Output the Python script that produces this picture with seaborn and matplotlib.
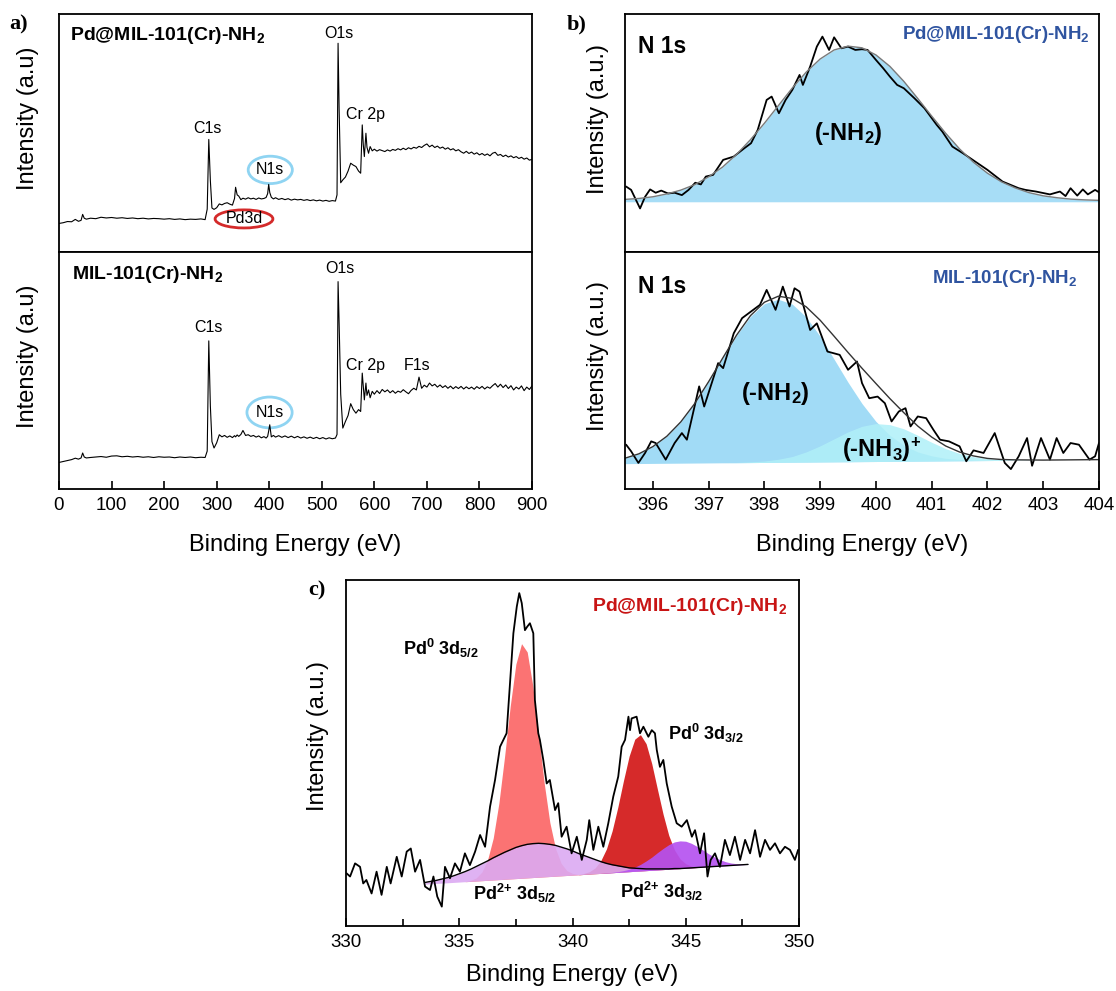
import matplotlib
matplotlib.use("Agg")
import matplotlib.pyplot as plt
import seaborn as sns
from matplotlib.patches import Ellipse
from matplotlib.ticker import MultipleLocator

# ---------------- data (arbitrary intensity units) ----------------
# a) survey spectra
survey_ev = [0, 8, 16, 24, 31, 37, 42, 45, 48, 52,
             60, 70, 80, 90, 100, 110, 120, 130, 140, 150,
             160, 170, 180, 190, 200, 210, 220, 230, 240, 250,
             260, 270, 278, 282, 285, 288, 291, 295, 300, 305,
             310, 315, 320, 325, 330, 334, 336, 339, 342, 346,
             350, 355, 360, 365, 370, 375, 380, 385, 390, 394,
             397, 399, 401, 404, 408, 412, 418, 424, 430, 436,
             442, 448, 454, 460, 466, 472, 478, 484, 490, 496,
             502, 508, 514, 520, 526, 529, 531, 533, 536, 540,
             545, 550, 555, 560, 565, 570, 574, 577, 579, 581,
             584, 586, 589, 592, 596, 600, 605, 610, 615, 620,
             625, 630, 635, 640, 645, 650, 655, 660, 665, 670,
             675, 680, 685, 690, 695, 700, 705, 710, 715, 720,
             725, 730, 735, 740, 745, 750, 755, 760, 765, 770,
             775, 780, 785, 790, 795, 800, 805, 810, 815, 820,
             825, 830, 835, 840, 845, 850, 855, 860, 865, 870,
             875, 880, 885, 890, 895, 900]
survey_pd = [12.0, 12.3, 12.8, 12.7, 13.7, 12.9, 13.3, 15.8, 14.2, 13.8,
             14.2, 14.0, 14.6, 14.3, 14.5, 14.2, 14.4, 14.1, 14.3, 14.0,
             14.2, 13.9, 14.1, 14.0, 13.8, 14.0, 13.7, 13.9, 13.6, 13.8,
             13.7, 13.9, 13.6, 18.0, 47.3, 30.0, 18.5, 17.9, 18.6, 20.2,
             19.8, 20.4, 20.7, 20.1, 19.7, 22.5, 27.2, 24.0, 23.5, 22.0,
             22.6, 22.2, 22.8, 22.3, 22.6, 22.1, 22.7, 22.3, 22.5, 22.9,
             24.5, 28.4, 25.0, 23.0, 22.3, 22.8, 22.1, 22.5, 22.0, 22.4,
             21.8, 22.2, 21.9, 22.1, 21.7, 22.0, 21.6, 21.9, 21.5, 21.8,
             21.4, 21.7, 21.3, 21.6, 21.4, 24.0, 87.7, 60.0, 29.1, 30.3,
             31.5, 34.0, 37.3, 36.5, 35.9, 34.0, 33.1, 53.4, 45.0, 40.1,
             49.9, 44.0, 41.5, 44.3, 42.5, 43.2, 42.4, 43.0, 42.6, 42.2,
             42.9, 42.4, 43.1, 42.7, 43.4, 42.9, 43.6, 43.0, 43.8, 43.3,
             44.0, 43.6, 44.4, 43.9, 44.8, 45.4, 44.2, 44.9, 43.9, 44.5,
             43.6, 44.1, 43.2, 43.8, 42.9, 43.4, 42.5, 43.0, 42.1, 41.5,
             42.3, 41.4, 42.0, 41.1, 41.7, 40.8, 41.4, 40.6, 41.2, 40.4,
             41.5, 41.9, 40.6, 41.0, 40.1, 40.7, 39.9, 40.4, 39.6, 40.1,
             39.3, 39.8, 39.0, 39.5, 38.6, 38.9]
survey_mil = [11.2, 11.6, 12.0, 12.4, 13.0, 12.6, 13.1, 15.2, 13.5, 13.1,
              13.3, 13.5, 13.7, 13.4, 13.9, 14.0, 13.6, 13.8, 13.5, 13.7,
              13.4, 13.6, 13.3, 13.6, 13.4, 13.5, 13.2, 13.5, 13.3, 13.5,
              13.2, 13.4, 13.3, 16.0, 62.5, 35.0, 20.0, 17.3, 19.5, 22.9,
              22.0, 22.6, 21.8, 22.4, 21.7, 22.5, 22.0, 22.8, 22.2, 23.0,
              24.7, 22.6, 22.9, 22.2, 22.6, 21.9, 22.4, 21.6, 22.1, 21.5,
              22.2, 24.5, 27.1, 22.0, 22.6, 21.9, 22.5, 21.8, 22.4, 21.7,
              22.3, 21.6, 22.2, 21.5, 22.0, 21.4, 21.9, 21.3, 21.8, 21.2,
              21.7, 21.1, 21.6, 21.2, 21.5, 23.0, 87.5, 70.0, 40.0, 25.7,
              28.5, 31.0, 36.0, 33.5, 32.0, 33.5, 32.7, 48.9, 43.0, 37.6,
              44.7, 39.5, 41.8, 38.5, 41.2, 40.0, 41.5, 40.3, 42.0, 41.0,
              41.8, 40.6, 41.5, 40.4, 41.3, 40.8, 41.9, 41.0, 40.2, 41.6,
              42.5, 41.8, 47.2, 42.5, 43.8, 43.0, 44.7, 43.5, 44.2, 43.0,
              43.9, 42.8, 43.6, 42.5, 43.4, 42.3, 43.2, 42.4, 43.3, 42.2,
              43.1, 42.3, 43.0, 42.1, 43.2, 42.4, 43.3, 42.2, 43.1, 42.5,
              43.6, 44.5, 43.0, 44.2, 42.8, 43.9, 42.4, 43.6, 41.8, 43.0,
              42.2, 43.5, 41.5, 43.0, 42.0, 43.5]

# b) N 1s high resolution
n1s_pd_ev = [395.52, 395.61, 395.77, 395.86, 395.95, 396.05, 396.15, 396.27, 396.39, 396.52,
             396.64, 396.76, 396.86, 396.95, 397.08, 397.26, 397.45, 397.64, 397.76, 397.88,
             398.04, 398.13, 398.26, 398.38, 398.5, 398.63, 398.69, 398.82, 398.94, 399.04,
             399.16, 399.25, 399.38, 399.5, 399.63, 399.75, 399.85, 400.0, 400.13, 400.25,
             400.38, 400.5, 400.69, 400.87, 401.09, 401.19, 401.37, 401.56, 401.78, 402.0,
             402.27, 402.56, 402.68, 402.87, 403.12, 403.3, 403.4, 403.49, 403.61, 403.71,
             403.8, 403.93, 404.0]
n1s_pd_int = [27.5, 26.1, 18.3, 23.2, 26.3, 24.9, 25.8, 24.6, 24.9, 23.9,
              26.1, 29.1, 28.4, 31.7, 32.4, 38.7, 40.1, 43.6, 45.7, 51.3,
              63.9, 65.3, 58.3, 63.9, 68.1, 74.4, 70.2, 77.9, 86.3, 90.5,
              84.9, 90.2, 85.6, 86.3, 84.9, 85.2, 84.9, 80.7, 77.2, 73.7,
              70.2, 68.8, 64.6, 60.4, 53.4, 50.6, 44.3, 41.5, 38.0, 34.5,
              29.6, 26.8, 26.1, 25.4, 24.2, 25.4, 23.5, 26.8, 23.7, 26.3,
              24.2, 26.1, 25.1]
n1s_mil_ev = [395.52, 395.61, 395.74, 395.86, 395.97, 396.05, 396.23, 396.39, 396.52, 396.61,
              396.83, 396.92, 397.17, 397.26, 397.45, 397.6, 397.76, 397.92, 398.04, 398.2,
              398.33, 398.45, 398.54, 398.63, 398.82, 398.94, 399.13, 399.35, 399.5, 399.66,
              399.75, 399.88, 400.03, 400.16, 400.28, 400.41, 400.53, 400.62, 400.75, 400.9,
              401.03, 401.15, 401.31, 401.5, 401.62, 401.75, 401.93, 402.13, 402.31, 402.42,
              402.56, 402.71, 402.8, 402.96, 403.12, 403.24, 403.36, 403.49, 403.64, 403.83,
              403.93, 404.0]
n1s_mil_int = [18.7, 15.9, 11.0, 15.2, 20.1, 19.4, 12.4, 19.4, 23.6, 20.8,
               43.3, 34.8, 53.1, 51.0, 65.7, 72.1, 74.9, 77.7, 84.0, 75.6,
               85.4, 77.0, 84.7, 83.3, 67.1, 69.9, 58.0, 56.6, 50.3, 53.8,
               44.7, 38.3, 39.0, 36.2, 28.5, 32.7, 34.1, 26.4, 30.6, 29.9,
               25.0, 20.8, 20.1, 18.0, 11.7, 16.3, 15.2, 23.6, 11.0, 8.4,
               13.8, 21.5, 9.8, 21.5, 12.4, 21.5, 15.2, 19.4, 18.7, 12.4,
               13.8, 19.4]

n1s_fit_ev = [395.5, 395.75, 396.0, 396.25, 396.5, 396.75, 397.0, 397.25, 397.5, 397.75,
              398.0, 398.25, 398.5, 398.75, 399.0, 399.25, 399.5, 399.75, 400.0, 400.25,
              400.5, 400.75, 401.0, 401.25, 401.5, 401.75, 402.0, 402.25, 402.5, 402.75,
              403.0, 403.25, 403.5, 403.75, 404.0]
n1s_pd_fit = [22.1, 22.5, 23.2, 24.4, 26.0, 28.3, 31.6, 35.7, 41.0, 47.2,
              54.1, 61.5, 68.9, 75.6, 81.1, 84.9, 86.5, 85.8, 82.8, 78.0,
              71.7, 64.5, 57.1, 49.9, 43.3, 37.7, 33.1, 29.5, 26.9, 24.9,
              23.6, 22.8, 22.2, 21.9, 21.7]
n1s_pd_base = 21.1
n1s_mil_base = [10.7, 10.75, 10.8, 10.85, 10.9, 10.95, 11.0, 11.05, 11.1, 11.15,
                11.2, 11.25, 11.3, 11.35, 11.4, 11.45, 11.5, 11.55, 11.6, 11.65,
                11.7, 11.75, 11.8, 11.85, 11.9, 11.95, 12.0, 12.05, 12.1, 12.15,
                12.2, 12.25, 12.3, 12.35, 12.4]
n1s_mil_nh2 = [2.3, 4.1, 7.1, 11.4, 17.4, 25.1, 34.3, 44.1, 53.7, 61.7,
               67.0, 68.8, 66.7, 61.2, 53.0, 43.3, 33.5, 24.5, 16.9, 11.0,
               6.8, 3.9, 2.2, 1.1, 0.6, 0.3, 0.1, 0, 0, 0,
               0, 0, 0, 0, 0]
n1s_mil_nh3 = [0, 0, 0, 0, 0, 0, 0, 0, 0.1, 0.3,
               0.6, 1.3, 2.4, 4.3, 6.8, 9.7, 12.6, 14.9, 16.0, 15.5,
               13.7, 10.9, 7.9, 5.2, 3.1, 1.7, 0.8, 0.4, 0.2, 0.1,
               0, 0, 0, 0, 0]

# c) Pd 3d high resolution
pd3d_ev = [330.03, 330.18, 330.4, 330.62, 330.76, 330.9, 331.13, 331.35, 331.57, 331.8,
           331.97, 332.24, 332.46, 332.68, 332.86, 333.05, 333.27, 333.49, 333.71, 333.86,
           334.03, 334.23, 334.37, 334.59, 334.81, 335.03, 335.25, 335.47, 335.7, 335.92,
           336.14, 336.36, 336.58, 336.8, 337.09, 337.24, 337.39, 337.54, 337.65, 337.76,
           337.9, 338.0, 338.12, 338.27, 338.34, 338.49, 338.56, 338.71, 338.86, 339.0,
           339.23, 339.37, 339.52, 339.74, 339.96, 340.19, 340.41, 340.63, 340.74, 340.92,
           341.14, 341.36, 341.58, 341.8, 342.02, 342.17, 342.32, 342.47, 342.54, 342.61,
           342.83, 342.98, 343.13, 343.35, 343.5, 343.64, 343.72, 343.86, 344.01, 344.16,
           344.38, 344.6, 344.82, 345.05, 345.27, 345.41, 345.63, 345.81, 345.96, 346.1,
           346.29, 346.51, 346.73, 346.95, 347.17, 347.4, 347.62, 347.84, 348.06, 348.28,
           348.5, 348.72, 348.94, 349.16, 349.38, 349.6, 349.82, 349.96]
pd3d_int = [15.2, 14.3, 18.1, 17.1, 12.3, 13.3, 9.4, 15.7, 9.0, 17.1,
            12.3, 20.0, 14.3, 21.5, 22.4, 15.7, 19.1, 11.4, 10.4, 14.3,
            8.5, 5.6, 17.1, 13.8, 18.1, 15.7, 21.0, 17.6, 21.5, 26.3,
            22.9, 34.5, 42.2, 51.8, 55.7, 70.1, 84.6, 92.3, 96.2, 93.3,
            85.5, 86.5, 87.5, 84.6, 65.3, 55.7, 53.8, 48.0, 41.2, 42.2,
            33.5, 35.5, 25.8, 28.7, 21.0, 25.8, 19.1, 24.9, 30.6, 22.0,
            28.7, 22.9, 29.7, 37.4, 43.2, 51.8, 53.8, 60.5, 56.6, 60.0,
            60.5, 55.7, 57.6, 54.7, 56.6, 55.7, 50.9, 46.0, 48.0, 41.2,
            34.5, 29.7, 28.7, 30.6, 25.8, 27.7, 21.0, 26.8, 14.3, 19.1,
            21.0, 17.1, 24.9, 20.5, 25.8, 19.1, 24.9, 21.0, 27.7, 20.0,
            24.9, 22.0, 23.9, 21.0, 22.9, 22.0, 19.1, 22.0]

pd3d_fit_ev = [333.5, 333.75, 334.0, 334.25, 334.5, 334.75, 335.0, 335.25, 335.5, 335.75,
               336.0, 336.25, 336.5, 336.75, 337.0, 337.25, 337.5, 337.75, 338.0, 338.25,
               338.5, 338.75, 339.0, 339.25, 339.5, 339.75, 340.0, 340.25, 340.5, 340.75,
               341.0, 341.25, 341.5, 341.75, 342.0, 342.25, 342.5, 342.75, 343.0, 343.25,
               343.5, 343.75, 344.0, 344.25, 344.5, 344.75, 345.0, 345.25, 345.5, 345.75,
               346.0, 346.25, 346.5, 346.75, 347.0, 347.25, 347.5, 347.75]
pd3d_base = [12.1, 12.2, 12.3, 12.4, 12.5, 12.6, 12.7, 12.8, 12.9, 13.0,
             13.1, 13.2, 13.3, 13.4, 13.5, 13.6, 13.7, 13.8, 13.9, 14.0,
             14.1, 14.2, 14.3, 14.4, 14.5, 14.6, 14.7, 14.8, 14.9, 15.0,
             15.1, 15.2, 15.3, 15.4, 15.5, 15.6, 15.7, 15.8, 15.9, 16.0,
             16.1, 16.2, 16.3, 16.4, 16.5, 16.6, 16.7, 16.8, 16.9, 17.0,
             17.1, 17.2, 17.3, 17.4, 17.5, 17.6, 17.7, 17.8]
pd0_52 = [0, 0, 0, 0, 0, 0, 0, 0, 0.3, 0.9,
          2.5, 5.9, 12.1, 22.1, 35.4, 49.9, 62.0, 67.8, 65.3, 55.3,
          41.3, 27.1, 15.6, 8.0, 3.6, 1.4, 0.5, 0.1, 0, 0,
          0, 0, 0, 0, 0, 0, 0, 0, 0, 0,
          0, 0, 0, 0, 0, 0, 0, 0, 0, 0,
          0, 0, 0, 0, 0, 0, 0, 0]
pd0_32 = [0, 0, 0, 0, 0, 0, 0, 0, 0, 0,
          0, 0, 0, 0, 0, 0, 0, 0, 0, 0,
          0, 0, 0, 0, 0, 0, 0, 0, 0.3, 0.7,
          1.7, 3.7, 7.0, 12.1, 18.8, 26.4, 33.4, 38.2, 39.4, 36.7,
          30.8, 23.3, 16.0, 9.8, 5.5, 2.8, 1.3, 0.5, 0.2, 0.1,
          0, 0, 0, 0, 0, 0, 0, 0]
pd2_52 = [0.5, 0.7, 0.9, 1.2, 1.5, 1.9, 2.4, 2.9, 3.5, 4.2,
          4.9, 5.6, 6.4, 7.1, 7.8, 8.4, 9.0, 9.4, 9.7, 9.8,
          9.8, 9.6, 9.3, 8.9, 8.3, 7.7, 7.0, 6.2, 5.5, 4.8,
          4.1, 3.4, 2.8, 2.3, 1.9, 1.5, 1.1, 0.9, 0.7, 0.5,
          0.4, 0.3, 0.2, 0.1, 0.1, 0, 0, 0, 0, 0,
          0, 0, 0, 0, 0, 0, 0, 0]
pd2_32 = [0, 0, 0, 0, 0, 0, 0, 0, 0, 0,
          0, 0, 0, 0, 0, 0, 0, 0, 0, 0,
          0, 0, 0, 0, 0, 0, 0, 0, 0, 0,
          0, 0, 0.1, 0.1, 0.2, 0.4, 0.7, 1.2, 1.9, 2.8,
          3.8, 5.0, 6.1, 7.1, 7.8, 8.0, 7.8, 7.1, 6.1, 5.0,
          3.8, 2.8, 1.9, 1.2, 0.7, 0.4, 0.2, 0.1]

# ---------------- style ----------------
sns.set_theme(style="ticks")
plt.rcParams["font.family"] = ["Liberation Sans", "DejaVu Sans"]
plt.rcParams["mathtext.fontset"] = "custom"
plt.rcParams["mathtext.rm"] = "Liberation Sans"
plt.rcParams["mathtext.bf"] = "Liberation Sans:bold"
plt.rcParams["mathtext.default"] = "bf"
for key in ("text.color", "axes.labelcolor", "xtick.color", "ytick.color", "axes.edgecolor"):
    plt.rcParams[key] = "black"

W, H = 1116, 991
fig = plt.figure(figsize=(W / 100, H / 100), dpi=100)


def px_axes(left, top, right, bottom):
    return fig.add_axes([left / W, 1 - bottom / H, (right - left) / W, (bottom - top) / H])


def frame(ax, xticks=True):
    for s in ax.spines.values():
        s.set_linewidth(1.3)
        s.set_color("black")
    ax.set_yticks([])
    if xticks:
        ax.tick_params(axis="x", direction="in", length=6, width=1.2, labelsize=13.5,
                       pad=6, colors="black", top=False)
    else:
        ax.set_xticks([])
    ax.set_ylim(0, 100)


def stack(base, *comps):
    out = list(base)
    for c in comps:
        out = [a + b for a, b in zip(out, c)]
    return out


BLUE_T = "#2f54a0"
RED_T = "#c81414"
LABEL_FS = 17

# ---------------- a) survey ----------------
ax_a1 = px_axes(59, 14, 532, 252)
ax_a2 = px_axes(59, 252, 532, 489)
for ax, yv in ((ax_a1, survey_pd), (ax_a2, survey_mil)):
    sns.lineplot(x=survey_ev, y=yv, ax=ax, color="black", linewidth=0.8,
                 estimator=None, sort=False)
    ax.set_xlim(0, 900)
frame(ax_a1, xticks=False)
frame(ax_a2)
ax_a2.xaxis.set_major_locator(MultipleLocator(100))
ax_a1.set_xlabel("")
ax_a2.set_xlabel("Binding Energy (eV)", fontsize=LABEL_FS)
ax_a2.xaxis.set_label_coords(0.5, -0.19)
for ax in (ax_a1, ax_a2):
    ax.set_ylabel("Intensity (a.u)", fontsize=LABEL_FS)
    ax.yaxis.set_label_coords(-0.042, 0.56)

ax_a1.text(20, 91, "Pd@MIL-101(Cr)-NH$_2$", fontsize=14, fontweight="bold", va="center")
ax_a1.text(533, 92, "O1s", fontsize=11.5, ha="center", va="center")
ax_a1.text(282, 52, "C1s", fontsize=11.5, ha="center", va="center")
ax_a1.text(584, 57.6, "Cr 2p", fontsize=11.5, ha="center", va="center")
ax_a1.text(402, 34.5, "N1s", fontsize=11.5, ha="center", va="center")
ax_a1.add_patch(Ellipse((402, 34.5), 84, 11.5, fill=False, edgecolor="#8fd4f2", lw=2))
ax_a1.text(352, 13.9, "Pd3d", fontsize=11.5, ha="center", va="center")
ax_a1.add_patch(Ellipse((352, 13.9), 110, 7.6, fill=False, edgecolor="#d42a2a", lw=2))

ax_a2.text(24, 90.3, "MIL-101(Cr)-NH$_2$", fontsize=14, fontweight="bold", va="center")
ax_a2.text(534, 93, "O1s", fontsize=11.5, ha="center", va="center")
ax_a2.text(285, 68.3, "C1s", fontsize=11.5, ha="center", va="center")
ax_a2.text(584, 52.1, "Cr 2p", fontsize=11.5, ha="center", va="center")
ax_a2.text(682, 52.1, "F1s", fontsize=11.5, ha="center", va="center")
ax_a2.text(400.6, 32.3, "N1s", fontsize=11.5, ha="center", va="center")
ax_a2.add_patch(Ellipse((400.6, 32.3), 86, 13, fill=False, edgecolor="#8fd4f2", lw=2))

# ---------------- b) N 1s ----------------
ax_b1 = px_axes(625, 14, 1099, 252)
ax_b2 = px_axes(625, 252, 1099, 489)

sns.lineplot(x=n1s_pd_ev, y=n1s_pd_int, ax=ax_b1, color="black", linewidth=1.3,
             estimator=None, sort=False)
ax_b1.fill_between(n1s_fit_ev, n1s_pd_base, n1s_pd_fit, color="#94d6f4", alpha=0.82, lw=0)
sns.lineplot(x=n1s_fit_ev, y=n1s_pd_fit, ax=ax_b1, color="#7a7a7a", linewidth=1.0,
             estimator=None, sort=False)

nh2_top = stack(n1s_mil_base, n1s_mil_nh2)
nh3_top = stack(n1s_mil_base, n1s_mil_nh3)
env_top = stack(n1s_mil_base, n1s_mil_nh2, n1s_mil_nh3)
sns.lineplot(x=n1s_mil_ev, y=n1s_mil_int, ax=ax_b2, color="black", linewidth=1.3,
             estimator=None, sort=False)
ax_b2.fill_between(n1s_fit_ev, n1s_mil_base, nh2_top, color="#8cd4f4", alpha=0.82, lw=0)
ax_b2.fill_between(n1s_fit_ev, n1s_mil_base, nh3_top, color="#b0f0f8", alpha=0.85, lw=0)
sns.lineplot(x=n1s_fit_ev, y=env_top, ax=ax_b2, color="#333333", linewidth=1.0,
             estimator=None, sort=False)

for ax in (ax_b1, ax_b2):
    ax.set_xlim(395.5, 404)
frame(ax_b1, xticks=False)
frame(ax_b2)
ax_b2.xaxis.set_major_locator(MultipleLocator(1))
ax_b1.set_xlabel("")
ax_b2.set_xlabel("Binding Energy (eV)", fontsize=LABEL_FS)
ax_b2.xaxis.set_label_coords(0.5, -0.19)
for ax in (ax_b1, ax_b2):
    ax.set_ylabel("Intensity (a.u.)", fontsize=LABEL_FS)
    ax.yaxis.set_label_coords(-0.034, 0.56)

ax_b1.text(395.74, 86.3, "N 1s", fontsize=16.5, fontweight="bold", va="center")
ax_b1.text(403.83, 91.2, "Pd@MIL-101(Cr)-NH$_2$", fontsize=13.5, fontweight="bold",
           color=BLUE_T, ha="right", va="center")
ax_b1.text(399.5, 49.9, "(-NH$_2$)", fontsize=17, fontweight="bold", ha="center", va="center")
ax_b2.text(395.74, 85.4, "N 1s", fontsize=16.5, fontweight="bold", va="center")
ax_b2.text(403.61, 88.9, "MIL-101(Cr)-NH$_2$", fontsize=13.5, fontweight="bold",
           color=BLUE_T, ha="right", va="center")
ax_b2.text(398.2, 40.4, "(-NH$_2$)", fontsize=17, fontweight="bold", ha="center", va="center")
ax_b2.text(400.1, 16.6, "(-NH$_3$)$^{{+}}$", fontsize=17, fontweight="bold", ha="center", va="center")

# ---------------- c) Pd 3d ----------------
ax_c = px_axes(346, 580, 799, 926)
sns.lineplot(x=pd3d_ev, y=pd3d_int, ax=ax_c, color="black", linewidth=1.3,
             estimator=None, sort=False)
ax_c.fill_between(pd3d_fit_ev, pd3d_base, stack(pd3d_base, pd0_52), color="#fb6b6b", alpha=0.95, lw=0)
ax_c.fill_between(pd3d_fit_ev, pd3d_base, stack(pd3d_base, pd0_32), color="#d41e1e", alpha=0.95, lw=0)
ax_c.fill_between(pd3d_fit_ev, pd3d_base, stack(pd3d_base, pd2_52), color="#dcaaf2", alpha=0.9, lw=0)
ax_c.fill_between(pd3d_fit_ev, pd3d_base, stack(pd3d_base, pd2_32), color="#b552f0", alpha=0.92, lw=0)
sns.lineplot(x=pd3d_fit_ev, y=stack(pd3d_base, pd2_52), ax=ax_c, color="black", linewidth=1.0,
             estimator=None, sort=False)
ax_c.set_xlim(330, 350)
frame(ax_c)
ax_c.xaxis.set_major_locator(MultipleLocator(5))
ax_c.xaxis.set_minor_locator(MultipleLocator(2.5))
ax_c.tick_params(axis="x", which="minor", direction="in", length=5, width=1.2, top=False)
ax_c.set_xlabel("Binding Energy (eV)", fontsize=LABEL_FS)
ax_c.xaxis.set_label_coords(0.5, -0.11)
ax_c.set_ylabel("Intensity (a.u.)", fontsize=LABEL_FS)
ax_c.yaxis.set_label_coords(-0.0375, 0.55)

ax_c.text(349.47, 92.3, "Pd@MIL-101(Cr)-NH$_2$", fontsize=14, fontweight="bold",
          color=RED_T, ha="right", va="center")
ax_c.text(332.52, 80.3, "Pd$^0$ 3d$_{5/2}$", fontsize=13, fontweight="bold", va="center")
ax_c.text(344.2, 55.7, "Pd$^0$ 3d$_{3/2}$", fontsize=13, fontweight="bold", va="center")
ax_c.text(335.6, 9.5, "Pd$^{2{+}}$ 3d$_{5/2}$", fontsize=13, fontweight="bold", va="center")
ax_c.text(342.1, 9.9, "Pd$^{2{+}}$ 3d$_{3/2}$", fontsize=13, fontweight="bold", va="center")

# panel letters
for lx, ly, s in ((19, 24, "a)"), (577, 24, "b)"), (317, 590, "c)")):
    fig.text(lx / W, 1 - ly / H, s, fontsize=16, fontweight="bold",
             family=["Liberation Serif", "DejaVu Serif"], ha="center", va="center")

fig.savefig("out.png", dpi=100)
